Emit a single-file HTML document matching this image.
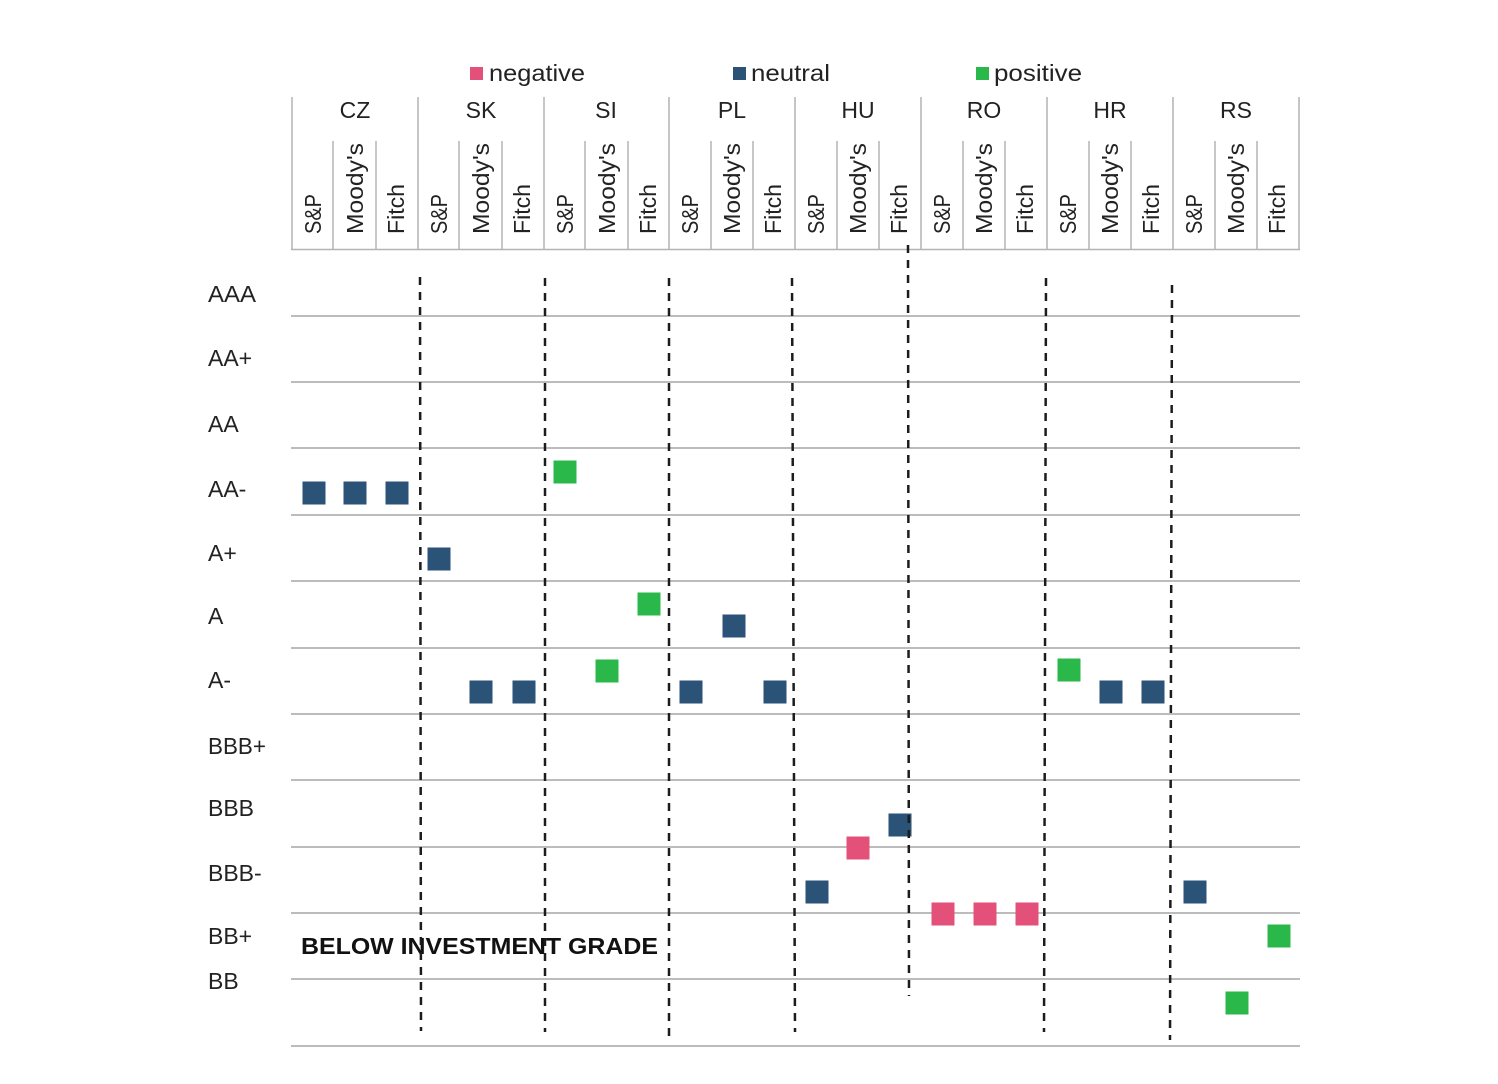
<!DOCTYPE html>
<html>
<head>
<meta charset="utf-8">
<style>
html,body{margin:0;padding:0;background:#fff;}
svg{display:block;}
text{font-family:"Liberation Sans",sans-serif;fill:#222;}
</style>
</head>
<body>
<svg width="1498" height="1084" viewBox="0 0 1498 1084" xmlns="http://www.w3.org/2000/svg">
<rect width="1498" height="1084" fill="#fff"/>

<!-- Legend -->
<rect x="470" y="67" width="13" height="13" fill="#e3507a"/>
<text x="489" y="81" font-size="23" textLength="96" lengthAdjust="spacingAndGlyphs">negative</text>
<rect x="733" y="67" width="13" height="13" fill="#2b5277"/>
<text x="751" y="81" font-size="23" textLength="79" lengthAdjust="spacingAndGlyphs">neutral</text>
<rect x="976" y="67" width="13" height="13" fill="#2bb84a"/>
<text x="994" y="81" font-size="23" textLength="88" lengthAdjust="spacingAndGlyphs">positive</text>

<!-- Header grid -->
<g stroke="#b4b4b4" stroke-width="1.5">
<line x1="291" y1="249.5" x2="1300" y2="249.5"/>
<line x1="292" y1="97" x2="292" y2="250"/>
<line x1="418" y1="97" x2="418" y2="250"/>
<line x1="544" y1="97" x2="544" y2="250"/>
<line x1="669" y1="97" x2="669" y2="250"/>
<line x1="795" y1="97" x2="795" y2="250"/>
<line x1="921" y1="97" x2="921" y2="250"/>
<line x1="1047" y1="97" x2="1047" y2="250"/>
<line x1="1173" y1="97" x2="1173" y2="250"/>
<line x1="1299" y1="97" x2="1299" y2="250"/>
<line x1="333" y1="141" x2="333" y2="250"/><line x1="376" y1="141" x2="376" y2="250"/>
<line x1="459" y1="141" x2="459" y2="250"/><line x1="502" y1="141" x2="502" y2="250"/>
<line x1="585" y1="141" x2="585" y2="250"/><line x1="628" y1="141" x2="628" y2="250"/>
<line x1="711" y1="141" x2="711" y2="250"/><line x1="753" y1="141" x2="753" y2="250"/>
<line x1="837" y1="141" x2="837" y2="250"/><line x1="879" y1="141" x2="879" y2="250"/>
<line x1="963" y1="141" x2="963" y2="250"/><line x1="1005" y1="141" x2="1005" y2="250"/>
<line x1="1089" y1="141" x2="1089" y2="250"/><line x1="1131" y1="141" x2="1131" y2="250"/>
<line x1="1215" y1="141" x2="1215" y2="250"/><line x1="1257" y1="141" x2="1257" y2="250"/>
</g>

<!-- Country labels -->
<g font-size="23" text-anchor="middle">
<text x="355" y="118">CZ</text>
<text x="481" y="118">SK</text>
<text x="606" y="118">SI</text>
<text x="732" y="118">PL</text>
<text x="858" y="118">HU</text>
<text x="984" y="118">RO</text>
<text x="1110" y="118">HR</text>
<text x="1236" y="118">RS</text>
</g>

<!-- Agency labels (rotated) -->
<g font-size="23">
<text transform="translate(321,234) rotate(-90)" textLength="40" lengthAdjust="spacingAndGlyphs">S&amp;P</text>
<text transform="translate(363,234) rotate(-90)" textLength="91" lengthAdjust="spacingAndGlyphs">Moody's</text>
<text transform="translate(404,234) rotate(-90)" textLength="50" lengthAdjust="spacingAndGlyphs">Fitch</text>

<text transform="translate(447,234) rotate(-90)" textLength="40" lengthAdjust="spacingAndGlyphs">S&amp;P</text>
<text transform="translate(489,234) rotate(-90)" textLength="91" lengthAdjust="spacingAndGlyphs">Moody's</text>
<text transform="translate(530,234) rotate(-90)" textLength="50" lengthAdjust="spacingAndGlyphs">Fitch</text>

<text transform="translate(573,234) rotate(-90)" textLength="40" lengthAdjust="spacingAndGlyphs">S&amp;P</text>
<text transform="translate(615,234) rotate(-90)" textLength="91" lengthAdjust="spacingAndGlyphs">Moody's</text>
<text transform="translate(656,234) rotate(-90)" textLength="50" lengthAdjust="spacingAndGlyphs">Fitch</text>

<text transform="translate(698,234) rotate(-90)" textLength="40" lengthAdjust="spacingAndGlyphs">S&amp;P</text>
<text transform="translate(740,234) rotate(-90)" textLength="91" lengthAdjust="spacingAndGlyphs">Moody's</text>
<text transform="translate(781,234) rotate(-90)" textLength="50" lengthAdjust="spacingAndGlyphs">Fitch</text>

<text transform="translate(824,234) rotate(-90)" textLength="40" lengthAdjust="spacingAndGlyphs">S&amp;P</text>
<text transform="translate(866,234) rotate(-90)" textLength="91" lengthAdjust="spacingAndGlyphs">Moody's</text>
<text transform="translate(907,234) rotate(-90)" textLength="50" lengthAdjust="spacingAndGlyphs">Fitch</text>

<text transform="translate(950,234) rotate(-90)" textLength="40" lengthAdjust="spacingAndGlyphs">S&amp;P</text>
<text transform="translate(992,234) rotate(-90)" textLength="91" lengthAdjust="spacingAndGlyphs">Moody's</text>
<text transform="translate(1033,234) rotate(-90)" textLength="50" lengthAdjust="spacingAndGlyphs">Fitch</text>

<text transform="translate(1076,234) rotate(-90)" textLength="40" lengthAdjust="spacingAndGlyphs">S&amp;P</text>
<text transform="translate(1118,234) rotate(-90)" textLength="91" lengthAdjust="spacingAndGlyphs">Moody's</text>
<text transform="translate(1159,234) rotate(-90)" textLength="50" lengthAdjust="spacingAndGlyphs">Fitch</text>

<text transform="translate(1202,234) rotate(-90)" textLength="40" lengthAdjust="spacingAndGlyphs">S&amp;P</text>
<text transform="translate(1244,234) rotate(-90)" textLength="91" lengthAdjust="spacingAndGlyphs">Moody's</text>
<text transform="translate(1285,234) rotate(-90)" textLength="50" lengthAdjust="spacingAndGlyphs">Fitch</text>
</g>

<!-- Horizontal grid lines -->
<g stroke="#a6a6a6" stroke-width="1.5">
<line x1="291" y1="316" x2="1300" y2="316"/>
<line x1="291" y1="382" x2="1300" y2="382"/>
<line x1="291" y1="448" x2="1300" y2="448"/>
<line x1="291" y1="515" x2="1300" y2="515"/>
<line x1="291" y1="581" x2="1300" y2="581"/>
<line x1="291" y1="648" x2="1300" y2="648"/>
<line x1="291" y1="714" x2="1300" y2="714"/>
<line x1="291" y1="780" x2="1300" y2="780"/>
<line x1="291" y1="847" x2="1300" y2="847"/>
<line x1="291" y1="913" x2="1300" y2="913"/>
<line x1="291" y1="979" x2="1300" y2="979"/>
<line x1="291" y1="1046" x2="1300" y2="1046"/>
</g>

<!-- Y labels -->
<g font-size="23">
<text x="208" y="302" textLength="48" lengthAdjust="spacingAndGlyphs">AAA</text>
<text x="208" y="366">AA+</text>
<text x="208" y="432">AA</text>
<text x="208" y="497">AA-</text>
<text x="208" y="561">A+</text>
<text x="208" y="624">A</text>
<text x="208" y="688">A-</text>
<text x="208" y="754" textLength="58" lengthAdjust="spacingAndGlyphs">BBB+</text>
<text x="208" y="816">BBB</text>
<text x="208" y="881">BBB-</text>
<text x="208" y="944">BB+</text>
<text x="208" y="989">BB</text>
</g>

<text x="301" y="954" font-size="23" font-weight="bold" style="fill:#111" textLength="357" lengthAdjust="spacingAndGlyphs">BELOW INVESTMENT GRADE</text>

<!-- Markers -->
<g>
<rect x="302.5" y="481.5" width="23" height="23" fill="#2b5277"/>
<rect x="343.5" y="481.5" width="23" height="23" fill="#2b5277"/>
<rect x="385.5" y="481.5" width="23" height="23" fill="#2b5277"/>

<rect x="427.5" y="547.5" width="23" height="23" fill="#2b5277"/>
<rect x="469.5" y="680.5" width="23" height="23" fill="#2b5277"/>
<rect x="512.5" y="680.5" width="23" height="23" fill="#2b5277"/>

<rect x="553.5" y="460.5" width="23" height="23" fill="#2bb84a"/>
<rect x="595.5" y="659.5" width="23" height="23" fill="#2bb84a"/>
<rect x="637.5" y="592.5" width="23" height="23" fill="#2bb84a"/>

<rect x="679.5" y="680.5" width="23" height="23" fill="#2b5277"/>
<rect x="722.5" y="614.5" width="23" height="23" fill="#2b5277"/>
<rect x="763.5" y="680.5" width="23" height="23" fill="#2b5277"/>

<rect x="805.5" y="880.5" width="23" height="23" fill="#2b5277"/>
<rect x="846.5" y="836.5" width="23" height="23" fill="#e3507a"/>
<rect x="888.5" y="813.5" width="23" height="23" fill="#2b5277"/>

<rect x="931.5" y="902.5" width="23" height="23" fill="#e3507a"/>
<rect x="973.5" y="902.5" width="23" height="23" fill="#e3507a"/>
<rect x="1015.5" y="902.5" width="23" height="23" fill="#e3507a"/>

<rect x="1057.5" y="658.5" width="23" height="23" fill="#2bb84a"/>
<rect x="1099.5" y="680.5" width="23" height="23" fill="#2b5277"/>
<rect x="1141.5" y="680.5" width="23" height="23" fill="#2b5277"/>

<rect x="1183.5" y="880.5" width="23" height="23" fill="#2b5277"/>
<rect x="1225.5" y="991.5" width="23" height="23" fill="#2bb84a"/>
<rect x="1267.5" y="924.5" width="23" height="23" fill="#2bb84a"/>
</g>

<!-- Dashed separators -->
<g stroke="#1c1c1c" stroke-width="2.5" stroke-dasharray="8 7" fill="none">
<line x1="420" y1="277" x2="421" y2="1031"/>
<line x1="545" y1="278" x2="545" y2="1032"/>
<line x1="669" y1="278" x2="669" y2="1040"/>
<line x1="792" y1="278" x2="795" y2="1032"/>
<line x1="908" y1="245" x2="909" y2="996"/>
<line x1="1046" y1="278" x2="1044" y2="1032"/>
<line x1="1172" y1="285" x2="1170" y2="1040"/>
</g>
</svg>
</body>
</html>
